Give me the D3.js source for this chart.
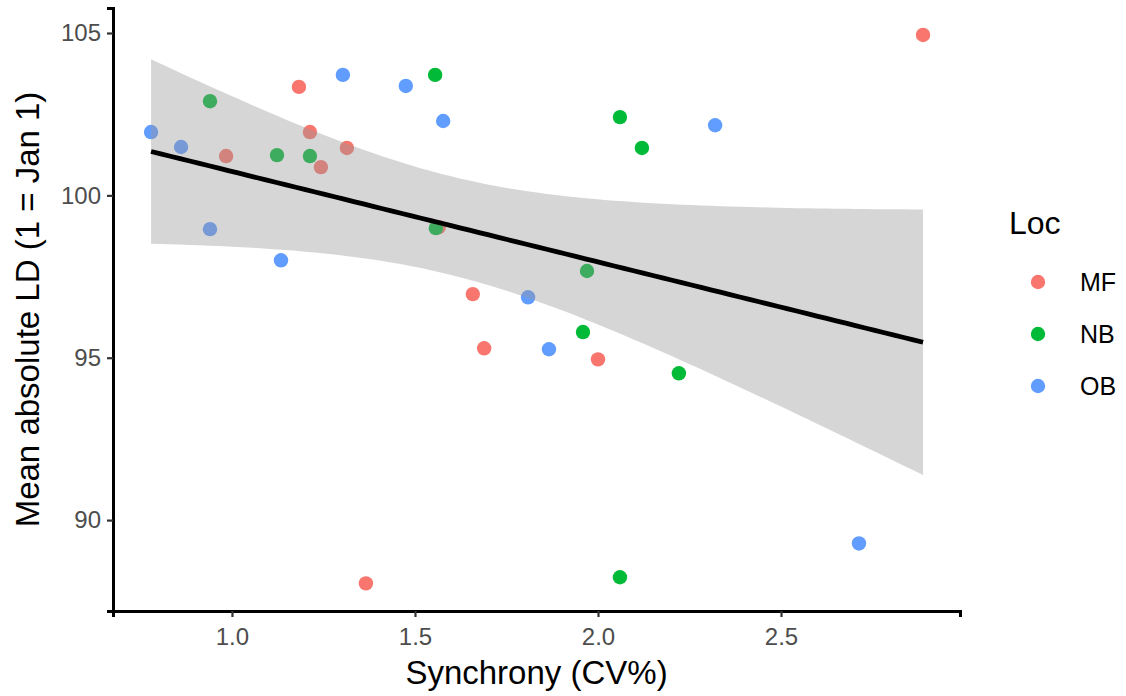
<!DOCTYPE html>
<html><head><meta charset="utf-8">
<script src="https://cdn.jsdelivr.net/npm/d3@7"></script>
<style>body{margin:0;background:#fff}svg{display:block}text{font-family:"Liberation Sans",Arial,sans-serif}</style>
</head><body><svg id="c" width="1126" height="696"></svg>
<script>
const locs = ["MF","NB","OB"];
const colors = ["#F8766D","#00BA38","#619CFF"];
const mfX = [2.888,1.183,1.213,0.984,1.314,1.243,1.658,1.689,2.000,1.366,1.565];
const mfY = [104.94,103.34,101.95,101.21,101.46,100.87,96.96,95.29,94.95,88.05,99.02];
const nbX = [1.555,0.940,1.123,1.213,1.557,2.060,2.120,1.970,1.959,2.221,2.060];
const nbY = [103.71,102.90,101.24,101.21,98.99,102.41,101.46,97.67,95.79,94.52,88.24];
const obX = [1.303,1.475,1.577,0.779,0.861,0.940,1.134,1.809,1.866,2.320,2.713];
const obY = [103.71,103.37,102.29,101.95,101.49,98.96,98.00,96.86,95.26,102.16,89.28];
const xTicks = [1.0,1.5,2.0,2.5];
const yTicks = [90,95,100,105];

const series = [[mfX,mfY],[nbX,nbY],[obX,obY]];
const pts = [];
series.forEach((s,i)=>s[0].forEach((x,j)=>pts.push({x, y:s[1][j], loc:locs[i]})));

const svg = d3.select("#c");
const L=113, R=960, T=8, B=611;
const x = d3.scaleLinear().domain([0.675,2.989]).range([L,R]);
const y = d3.scaleLinear().domain([87.2,105.77]).range([B,T]);
const col = d3.scaleOrdinal().domain(locs).range(colors);

// points
svg.append("g").selectAll("circle").data(pts).join("circle")
  .attr("cx",d=>x(d.x)).attr("cy",d=>y(d.y)).attr("r",7.2).attr("fill",d=>col(d.loc));

// linear model + 95% CI
const n = pts.length;
const mx = d3.mean(pts,d=>d.x), my = d3.mean(pts,d=>d.y);
const sxx = d3.sum(pts,d=>(d.x-mx)**2);
const b1 = d3.sum(pts,d=>(d.x-mx)*(d.y-my))/sxx, b0 = my-b1*mx;
const s = Math.sqrt(d3.sum(pts,d=>(d.y-b0-b1*d.x)**2)/(n-2));
const tq = 2.0395;
const [xmin,xmax] = d3.extent(pts,d=>d.x);
const fit = d3.range(0,81).map(i=>{const xv=xmin+(xmax-xmin)*i/80; const f=b0+b1*xv;
  const se=s*Math.sqrt(1/n+(xv-mx)**2/sxx); return {x:xv,f,lo:f-tq*se,hi:f+tq*se};});
svg.append("path").datum(fit).attr("fill","#999999").attr("fill-opacity",0.4)
  .attr("d",d3.area().x(d=>x(d.x)).y0(d=>y(d.lo)).y1(d=>y(d.hi)));
svg.append("path").datum(fit).attr("fill","none").attr("stroke","#000").attr("stroke-width",4.8)
  .attr("d",d3.line().x(d=>x(d.x)).y(d=>y(d.f)));

// axes
const xa = svg.append("g").attr("transform",`translate(0,${B})`)
  .call(d3.axisBottom(x).tickValues(xTicks).tickFormat(d3.format(".1f")).tickSizeOuter(0).tickSize(6));
const ya = svg.append("g").attr("transform",`translate(${L},0)`)
  .call(d3.axisLeft(y).tickValues(yTicks).tickSizeOuter(0).tickSize(6));
[xa,ya].forEach(a=>{
  a.select(".domain").attr("stroke","#000").attr("stroke-width",3);
  a.selectAll(".tick line").attr("stroke","#333").attr("stroke-width",2.2);
  a.selectAll(".tick text").attr("fill","#4D4D4D").attr("font-size",24).attr("font-family","Liberation Sans, Arial, sans-serif");
});
xa.selectAll(".tick text").attr("y",34).attr("dy",0);
ya.selectAll(".tick text").attr("x",-12);

svg.append("text").attr("x",(L+R)/2).attr("y",684).attr("text-anchor","middle")
  .attr("font-size",33).attr("fill","#000").text("Synchrony (CV%)");
svg.append("text").attr("transform",`translate(39,${(T+B)/2}) rotate(-90)`).attr("text-anchor","middle")
  .attr("font-size",33).attr("fill","#000").text("Mean absolute LD (1 = Jan 1)");

// legend
const lg = svg.append("g");
lg.append("text").attr("x",1009).attr("y",234).attr("font-size",32).attr("fill","#000").text("Loc");
locs.forEach((l,i)=>{
  const cy = 282 + i*52;
  lg.append("circle").attr("cx",1038).attr("cy",cy).attr("r",7.2).attr("fill",col(l));
  lg.append("text").attr("x",1080).attr("y",cy).attr("dy","0.36em").attr("font-size",25).attr("fill","#000").text(l);
});
</script></body></html>
